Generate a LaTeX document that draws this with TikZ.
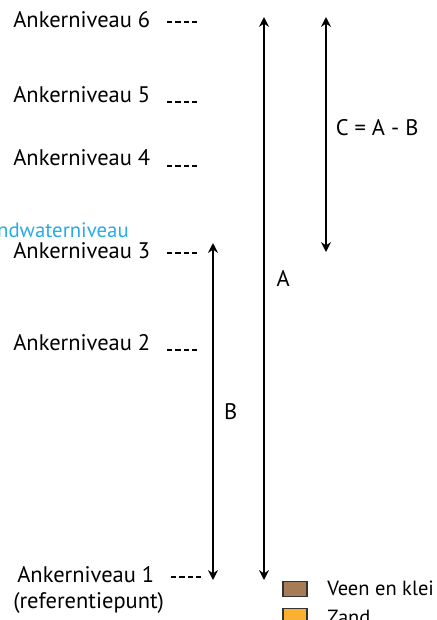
\documentclass[tikz,border=0pt]{standalone}
\usepackage{fontspec}
\setmainfont{PT Sans}
\usetikzlibrary{arrows.meta}

\definecolor{grondblauw}{HTML}{29ABE2}
\definecolor{veenbruin}{HTML}{A57C56}
\definecolor{zandoranje}{HTML}{FBB030}

\tikzset{
    niveau/.style={anchor=west, inner sep=0pt, font=\fontsize{16}{18}\selectfont},
    stippel/.style={draw=black, line width=1.3pt, dash pattern=on 3.6pt off 2.4pt},
    maat/.style={draw=black, line width=1.2pt, {Stealth[length=7pt,width=7pt]}-{Stealth[length=7pt,width=7pt]}},
    legenda/.style={draw=black!80, line width=0.8pt, minimum width=17pt, minimum height=11pt, inner sep=0pt}
}

\begin{document}
\begin{tikzpicture}[x=0.025cm, y=-0.025cm]
        \useasboundingbox (0,0) rectangle (436,620);
        \clip (0,0) rectangle (436,620);
        \begin{scope}[every node/.style={niveau}]
            \node (n6) at (13,20) {Ankerniveau 6};
            \node (n5) at (13,95) {Ankerniveau 5};
            \node (n4) at (13,158) {Ankerniveau 4};
            \node[anchor=east, text=grondblauw, font=\fontsize{14.8}{17}\selectfont] (gw) at (129,230) {Grondwaterniveau};
            \node (n3) at (13,251) {Ankerniveau 3};
            \node (n2) at (13,343) {Ankerniveau 2};
            \node (n1) at (17,575) {Ankerniveau 1};
            \node (ref) at (13,603) {(referentiepunt)};
        \end{scope}
        \begin{scope}[every path/.style={stippel}]
            \draw (167,22) -- (199,22);
            \draw (167,102) -- (199,102);
            \draw (167,166) -- (199,166);
            \draw (167,253) -- (199,253);
            \draw (167,350) -- (199,350);
            \draw (171,577) -- (201,577);
        \end{scope}
        \coordinate (atop) at (264,17);
        \coordinate (abot) at (264,580);
        \coordinate (btop) at (213,243);
        \coordinate (bbot) at (213,580);
        \coordinate (ctop) at (326,17);
        \coordinate (cbot) at (326,252);
        \draw[maat] (atop) -- node[pos=0.465, right=5pt, font=\fontsize{16}{18}\selectfont] (la) {A} (abot);
        \draw[maat] (btop) -- node[pos=0.5, right=4pt, font=\fontsize{16}{18}\selectfont] (lb) {B} (bbot);
        \draw[maat] (ctop) -- node[pos=0.47, right=3pt, font=\fontsize{16}{18}\selectfont] (lc) {C = A - B} (cbot);
        \node[legenda, fill=veenbruin] (veen) at (295,589) {};
        \node[niveau, font=\fontsize{14.6}{17}\selectfont] (lveen) at (327,588) {Veen en klei};
        \node[legenda, fill=zandoranje] (zand) at (295,616) {};
        \node[niveau, font=\fontsize{14.6}{17}\selectfont] (lzand) at (327,617) {Zand};
    \end{tikzpicture}
\end{document}
